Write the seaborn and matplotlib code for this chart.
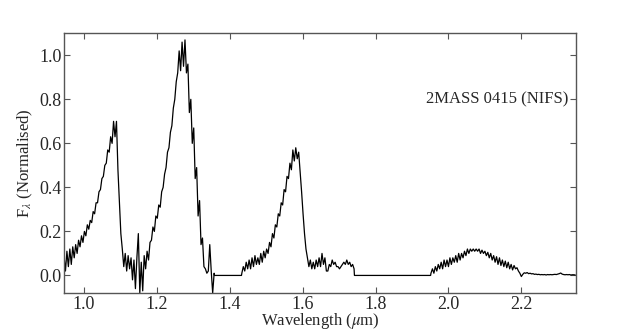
import numpy as np
import pandas as pd
import seaborn as sns
import matplotlib.pyplot as plt

step = 0.004

# Y and J bands
yj_start = 0.945
yj_flux = [0.09, 0.02, 0.11, 0.04, 0.12, 0.05, 0.13, 0.08, 0.14, 0.10,
           0.16, 0.13, 0.18, 0.15, 0.20, 0.18, 0.23, 0.21, 0.25, 0.24,
           0.29, 0.28, 0.33, 0.33, 0.38, 0.39, 0.44, 0.45, 0.50, 0.51,
           0.57, 0.56, 0.63, 0.60, 0.70, 0.63, 0.70, 0.48, 0.33, 0.19,
           0.12, 0.04, 0.10, 0.02, 0.09, 0.03, 0.08, -0.02, 0.07, -0.06,
           0.08, 0.19, -0.08, 0.06, -0.07, 0.09, 0.03, 0.11, 0.07, 0.15,
           0.16, 0.22, 0.20, 0.27, 0.26, 0.32, 0.31, 0.38, 0.40, 0.46,
           0.49, 0.56, 0.58, 0.65, 0.68, 0.76, 0.80, 0.88, 0.92, 1.02,
           0.93, 1.06, 0.95, 1.07, 0.92, 0.96, 0.74, 0.80, 0.60, 0.67,
           0.44, 0.49, 0.27, 0.34, 0.14, 0.17, 0.04, 0.03, 0.01, 0.02,
           0.14, 0.02, -0.08, 0.01]

# H band
h_start = 1.433
h_flux = [0.01, 0.04, 0.02, 0.06, 0.03, 0.07, 0.03, 0.08, 0.04, 0.09,
          0.05, 0.08, 0.05, 0.10, 0.06, 0.11, 0.08, 0.12, 0.10, 0.15,
          0.13, 0.19, 0.17, 0.23, 0.22, 0.28, 0.27, 0.33, 0.32, 0.39,
          0.38, 0.45, 0.44, 0.51, 0.48, 0.57, 0.52, 0.58, 0.53, 0.56,
          0.47, 0.38, 0.28, 0.19, 0.12, 0.08, 0.04, 0.07, 0.03, 0.06,
          0.03, 0.07, 0.04, 0.08, 0.04, 0.10, 0.05, 0.08, 0.02, 0.02,
          0.05, 0.04, 0.07, 0.05, 0.06, 0.04, 0.04, 0.03, 0.04, 0.05,
          0.06, 0.05, 0.07, 0.05, 0.06, 0.04, 0.05, 0.03]

# K band
k_start = 1.952
k_flux = [0.01, 0.03, 0.01, 0.04, 0.02, 0.05, 0.03, 0.06, 0.03, 0.07,
          0.04, 0.07, 0.04, 0.08, 0.05, 0.08, 0.06, 0.09, 0.06, 0.10,
          0.07, 0.10, 0.08, 0.11, 0.09, 0.12, 0.10, 0.12, 0.11, 0.12,
          0.11, 0.12, 0.11, 0.12, 0.10, 0.115, 0.10, 0.11, 0.09, 0.105,
          0.08, 0.10, 0.07, 0.09, 0.06, 0.085, 0.05, 0.08, 0.045, 0.07,
          0.04, 0.065, 0.035, 0.06, 0.03, 0.05, 0.025, 0.045, 0.03, 0.035,
          0.02, 0.01, -0.005, 0.005, 0.012, 0.01, 0.013, 0.008, 0.01, 0.007,
          0.008, 0.005, 0.006, 0.004, 0.005, 0.003, 0.004, 0.003, 0.004, 0.002,
          0.004, 0.003, 0.004, 0.003, 0.004, 0.005, 0.004, 0.006, 0.008, 0.011,
          0.006, 0.004, 0.003, 0.004, 0.003, 0.004, 0.002, 0.003, 0.003, 0.002]

# telluric gaps were set to zero
gap1_wl = [1.358, 1.432]
gap2_wl = [1.742, 1.951]


def band(start, flux):
    wl = start + step * np.arange(len(flux))
    return pd.DataFrame({'wavelength': wl, 'flux': flux})


spec = pd.concat([
    band(yj_start, yj_flux),
    pd.DataFrame({'wavelength': gap1_wl, 'flux': [0.0, 0.0]}),
    band(h_start, h_flux),
    pd.DataFrame({'wavelength': gap2_wl, 'flux': [0.0, 0.0]}),
    band(k_start, k_flux),
], ignore_index=True)

sns.set_style('ticks')
plt.rcParams['font.family'] = ['Liberation Serif', 'DejaVu Serif']
plt.rcParams['mathtext.fontset'] = 'stix'
plt.rcParams['xtick.direction'] = 'in'
plt.rcParams['ytick.direction'] = 'in'

fig = plt.figure(figsize=(6.4, 3.33), dpi=100)
ax = fig.add_axes([0.1, 0.12, 0.8, 0.78])

sns.lineplot(data=spec, x='wavelength', y='flux', sort=False, estimator=None,
             color='k', lw=0.9, ax=ax)

ax.set_xlim(0.945, 2.35)
ax.set_ylim(-0.08, 1.1)
ax.set_xticks([1.0, 1.2, 1.4, 1.6, 1.8, 2.0, 2.2])
ax.set_yticks([0.0, 0.2, 0.4, 0.6, 0.8, 1.0])
ax.tick_params(top=True, right=True, labelsize=13, length=4, width=0.8,
               color='#555555')
ax.tick_params(axis='y', pad=1.5)
ax.tick_params(axis='x', pad=2)
for s in ax.spines.values():
    s.set_color('#555555')
    s.set_linewidth(1.0)

ax.set_xlabel(r'Wavelength ($\mu$m)', fontsize=12, labelpad=-1)
ax.set_ylabel(r'F$_\lambda$ (Normalised)', fontsize=12, labelpad=3)
ax.text(0.985, 0.745, '2MASS 0415 (NIFS)', transform=ax.transAxes,
        ha='right', va='center', fontsize=12)

fig.savefig('out.png', dpi=100)
